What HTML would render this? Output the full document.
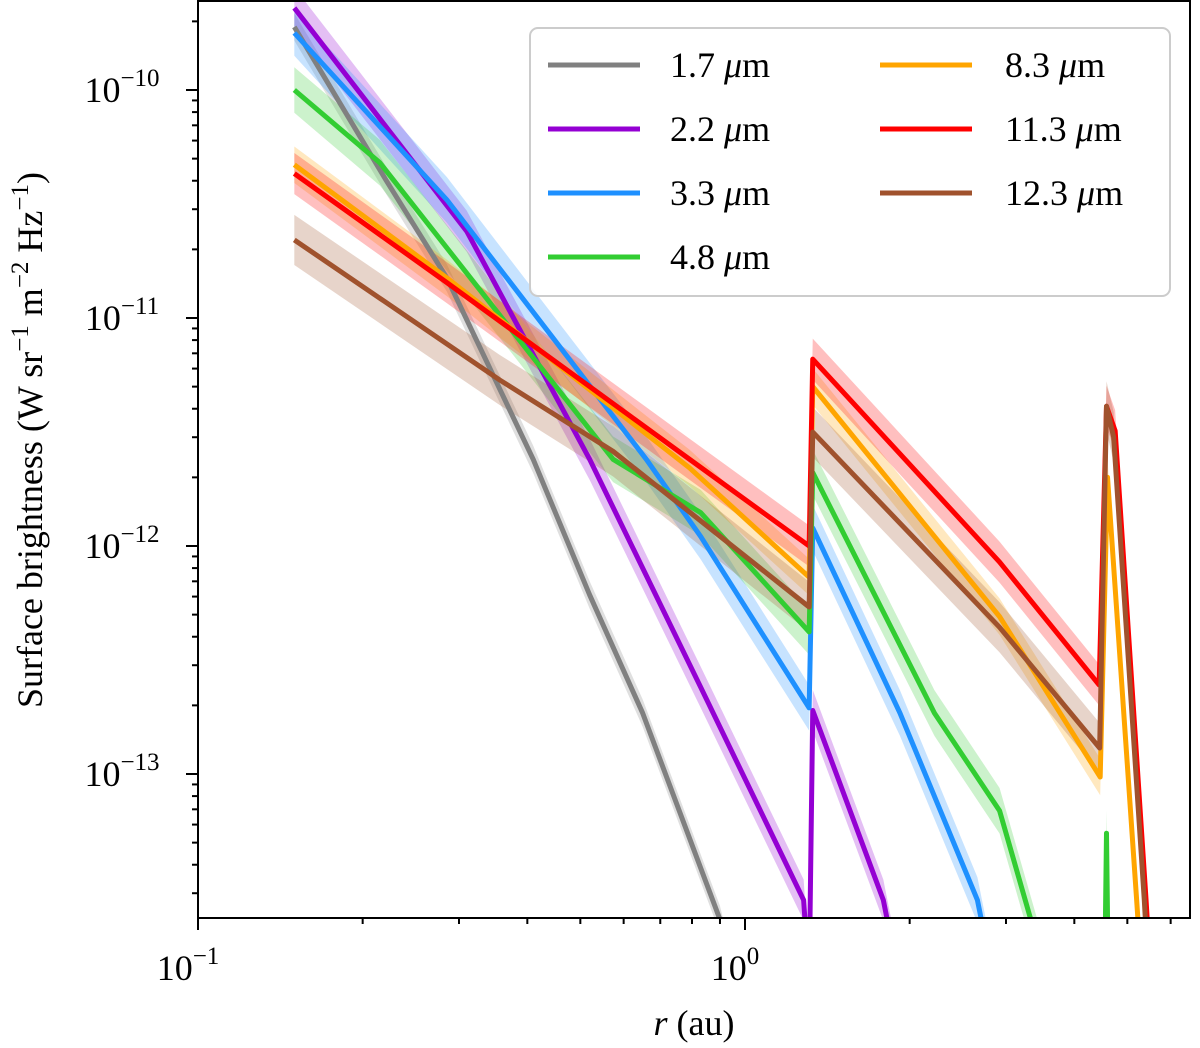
<!DOCTYPE html>
<html><head><meta charset="utf-8"><style>
html,body{margin:0;padding:0;background:#fff;}
svg{display:block;font-family:"Liberation Serif","DejaVu Serif",serif;}
</style></head><body>
<svg id="chart" width="1200" height="1048" viewBox="0 0 1200 1048">
<defs><clipPath id="pc"><rect x="198" y="1" width="992" height="917"/></clipPath></defs>
<g id="bands" clip-path="url(#pc)"></g>
<g id="lines" clip-path="url(#pc)"></g>
<g id="axes"></g>
<g id="legend"></g>
</svg>
<script>
const seriesNames = ["1.7 μm","2.2 μm","3.3 μm","4.8 μm","8.3 μm","11.3 μm","12.3 μm"];
const seriesColors = ["#808080","#9400d3","#1e90ff","#32cd32","#ffa500","#ff0000","#a0522d"];
const r17 = [0.15,0.221,0.285,0.41,0.52,0.65,0.90,1.0];
const sb17 = [1.89e-10,4.0e-11,1.5e-11,2.4e-12,6.1e-13,1.85e-13,2.3e-14,8e-15];
const r22 = [0.15,0.31,0.52,0.83,1.28,1.31,1.33,1.79,1.95];
const sb22 = [2.29e-10,2.4e-11,2.4e-12,2.4e-13,2.8e-14,1.2e-14,1.9e-13,2.8e-14,1.0e-14];
const r33 = [0.15,0.285,0.66,0.83,1.31,1.33,1.92,2.66,2.9];
const sb33 = [1.78e-10,3.3e-11,2.4e-12,1.1e-12,1.95e-13,1.2e-12,1.85e-13,2.8e-14,1.0e-14];
const r48 = [0.15,0.215,0.574,0.83,1.31,1.33,2.22,2.92,3.6,4.54,4.58,4.62];
const sb48 = [1e-10,4.8e-11,2.4e-12,1.4e-12,4.2e-13,2.1e-12,1.85e-13,6.9e-14,1.2e-14,1.0e-14,5.5e-14,1.0e-14];
const r83 = [0.15,0.285,0.792,1.31,1.33,2.92,4.46,4.60,5.20,5.35];
const sb83 = [4.7e-11,1.5e-11,2.2e-12,7.3e-13,5.0e-12,4.9e-13,9.7e-14,2.0e-12,2.8e-14,1.0e-14];
const r113 = [0.15,0.285,0.792,1.31,1.33,2.92,4.44,4.58,4.75,5.41,5.55];
const sb113 = [4.3e-11,1.43e-11,2.4e-12,1.0e-12,6.6e-12,8.5e-13,2.46e-13,4.1e-12,3.2e-12,2.8e-14,1.0e-14];
const r123 = [0.15,0.356,0.574,1.31,1.33,2.92,4.45,4.58,4.72,5.37,5.5];
const sb123 = [2.2e-11,5.35e-12,2.6e-12,5.4e-13,3.16e-12,4.4e-13,1.3e-13,4.1e-12,3.0e-12,2.8e-14,1.0e-14];
const bandDex = [0.06,0.09,0.10,0.10,0.08,0.09,0.11];
const xTickVals = [0.1,1];
const xTickLabels = ["−1","0"];
const yTickVals = [1e-10,1e-11,1e-12,1e-13];
const yTickLabels = ["−10","−11","−12","−13"];

const allR=[r17,r22,r33,r48,r83,r113,r123], allS=[sb17,sb22,sb33,sb48,sb83,sb113,sb123];
const X0=198,DEC_X=547,Y0=90,DEC_Y=228;
const xs=v=>X0+(Math.log10(v)+1)*DEC_X;
const ys=v=>Y0+(-10-Math.log10(v))*DEC_Y;
const NS="http://www.w3.org/2000/svg";
function mk(t,a,p){const e=document.createElementNS(NS,t);for(const k in a)e.setAttribute(k,a[k]);p.appendChild(e);return e;}
const bands=document.getElementById('bands'),lines=document.getElementById('lines'),axes=document.getElementById('axes'),leg=document.getElementById('legend');
allR.forEach((R,i)=>{
  const S=allS[i],f=Math.pow(10,bandDex[i]);
  let up=R.map((r,j)=>xs(r)+','+ys(S[j]*f)),lo=R.map((r,j)=>xs(r)+','+ys(S[j]/f)).reverse();
  const b=mk('polygon',{points:up.concat(lo).join(' '),fill:seriesColors[i],'fill-opacity':0.25,stroke:'none'},bands);
  
  
});
allR.forEach((R,i)=>{
  const S=allS[i];
  const l=mk('polyline',{points:R.map((r,j)=>xs(r)+','+ys(S[j])).join(' '),fill:'none',stroke:seriesColors[i],'stroke-width':5,'stroke-linejoin':'round'},lines);
  
  
});
const fr=mk('rect',{x:198,y:1,width:992,height:917,fill:'none',stroke:'#000','stroke-width':2},axes);


for(let d=-1;d<=0;d++)for(let m=1;m<10;m++){const v=m*Math.pow(10,d),x=xs(v);if(x<198||x>1190)continue;
  mk('line',{x1:x,x2:x,y1:918,y2:918+(m==1?12:6),stroke:'#000','stroke-width':2},axes);}
xTickVals.forEach((v,i)=>{const t=mk('text',{x:xs(v)-10,y:980,'font-size':36,'text-anchor':'middle'},axes);
  
  
  t.innerHTML='10<tspan dy="-16" font-size="25">'+xTickLabels[i]+'</tspan>';});
for(let d=-14;d<=-10;d++)for(let m=1;m<10;m++){const v=m*Math.pow(10,d),y=ys(v);if(y<1||y>918)continue;
  mk('line',{x1:198,x2:198-(m==1?12:6),y1:y,y2:y,stroke:'#000','stroke-width':2},axes);}
yTickVals.forEach((v,i)=>{const t=mk('text',{x:122,y:ys(v)+12,'font-size':36,'text-anchor':'middle'},axes);
  
  
  t.innerHTML='10<tspan dy="-16" font-size="25">'+yTickLabels[i]+'</tspan>';});
const xl=mk('text',{x:694,y:1035,'font-size':36,'text-anchor':'middle'},axes);


xl.innerHTML='<tspan font-style="italic">r</tspan> (au)';
const yl=mk('text',{x:0,y:0,'font-size':36,'text-anchor':'middle',transform:'translate(42,440) rotate(-90)'},axes);


yl.innerHTML='Surface brightness (W sr<tspan dy="-14" font-size="25">−1</tspan><tspan dy="14"> m</tspan><tspan dy="-14" font-size="25">−2</tspan><tspan dy="14"> Hz</tspan><tspan dy="-14" font-size="25">−1</tspan><tspan dy="14">)</tspan>';
const lb=mk('rect',{x:530,y:28,width:640,height:268,rx:8,fill:'#fff','fill-opacity':0.85,stroke:'#ccc','stroke-width':2},leg);


const legPos=[[0,0],[0,1],[0,2],[0,3],[1,0],[1,1],[1,2]];
seriesNames.forEach((n,i)=>{const [c,r]=legPos[i];const lx=c?880:548,ty=65+r*64;
  const g=mk('g',{},leg);
  
  
  mk('line',{x1:lx,x2:lx+92,y1:ty,y2:ty,stroke:seriesColors[i],'stroke-width':5},g);
  const t=mk('text',{x:c?1005:670,y:ty+12,'font-size':36},g);
  const p=n.split(' ');t.innerHTML=p[0]+' <tspan font-style="italic">μ</tspan>m';});
</script>
</body></html>
